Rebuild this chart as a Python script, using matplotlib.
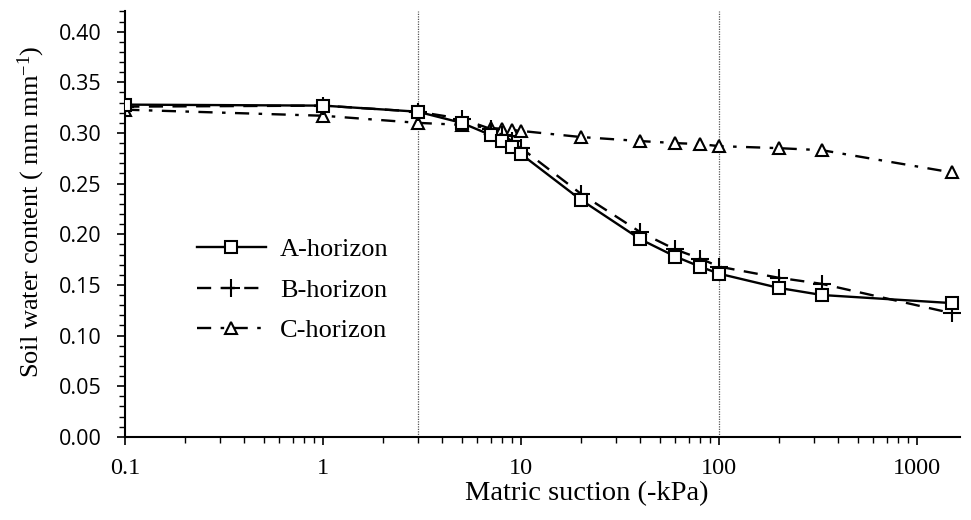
import matplotlib.pyplot as plt
from matplotlib.ticker import FixedLocator, MultipleLocator, NullFormatter

suction = [0.1, 1, 3, 5, 7, 8, 9, 10, 20, 40, 60, 80, 100, 200, 330, 1500]
a_horizon = [0.328, 0.327, 0.321, 0.310, 0.298, 0.292, 0.286, 0.279,
             0.234, 0.195, 0.178, 0.168, 0.161, 0.147, 0.140, 0.132]
b_horizon = [0.326, 0.327, 0.321, 0.314, 0.304, 0.298, 0.292, 0.285,
             0.240, 0.202, 0.185, 0.176, 0.168, 0.157, 0.151, 0.122]
c_horizon = [0.323, 0.317, 0.310, 0.308, 0.305, 0.304, 0.303, 0.302,
             0.296, 0.292, 0.290, 0.289, 0.287, 0.285, 0.283, 0.261]
ref_lines = [3, 100]
xticks = [0.1, 1, 10, 100, 1000]
xtick_labels = ["0.1", "1", "10", "100", "1000"]

serif = "Liberation Serif"
sans = "Open Sans"
plt.rcParams["mathtext.fontset"] = "custom"
plt.rcParams["mathtext.rm"] = serif
plt.rcParams["mathtext.it"] = serif + ":italic"

fig = plt.figure(figsize=(9.71, 5.2), dpi=100)
ax = fig.add_axes([0.129, 0.160, 0.860, 0.818])

for x in ref_lines:
    ax.axvline(x, color="#555555", lw=0.9, ls=(0, (1, 1)), zorder=1)

ax.plot(suction, a_horizon, color="black", lw=1.7, marker="s", ms=9,
        mfc="white", mec="black", mew=1.5, label="A-horizon", zorder=4)
ax.plot(suction, b_horizon, color="black", lw=1.7, ls=(0, (6, 4)), marker="+",
        ms=13, mew=1.5, label="B-horizon", zorder=3)
ax.plot(suction, c_horizon, color="black", lw=1.7, ls=(0, (6, 4, 1.5, 4)),
        marker="^", ms=9, mfc="white", mec="black", mew=1.5,
        label="C-horizon", zorder=2)

ax.set_xscale("log")
ax.set_xlim(0.1, 1650)
ax.set_ylim(0, 0.42)

ax.xaxis.set_major_locator(FixedLocator(xticks))
ax.set_xticklabels(xtick_labels, fontfamily=serif, fontsize=17.5)
ax.xaxis.set_minor_formatter(NullFormatter())
ax.yaxis.set_minor_locator(MultipleLocator(0.01))
ax.set_yticks([i * 0.05 for i in range(9)])
ax.set_yticklabels([f"{i * 0.05:.2f}" for i in range(9)], fontfamily=sans, fontsize=15.5)

ax.tick_params(which="major", direction="out", length=6, width=1.2)
ax.tick_params(which="minor", direction="out", length=4, width=1.0)
ax.tick_params(axis="y", which="major", pad=11)
ax.tick_params(axis="x", which="major", pad=9)

for side in ["top", "right"]:
    ax.spines[side].set_visible(False)
for side in ["left", "bottom"]:
    ax.spines[side].set_linewidth(1.5)

ax.set_xlabel("Matric suction (-kPa)", fontfamily=serif, fontsize=20.5)
ax.xaxis.set_label_coords(0.553, -0.104)
ax.set_ylabel("Soil water content ( mm mm$^{-1}$)", fontfamily=serif, fontsize=19)
ax.yaxis.set_label_coords(-0.094, 0.529)

leg = ax.legend(loc="center left", bbox_to_anchor=(0.086, 0.345), frameon=False,
                prop={"family": serif, "size": 19}, handlelength=2.6,
                labelspacing=0.65, handletextpad=0.55, borderpad=0, borderaxespad=0)

fig.savefig("out.png", dpi=100)
